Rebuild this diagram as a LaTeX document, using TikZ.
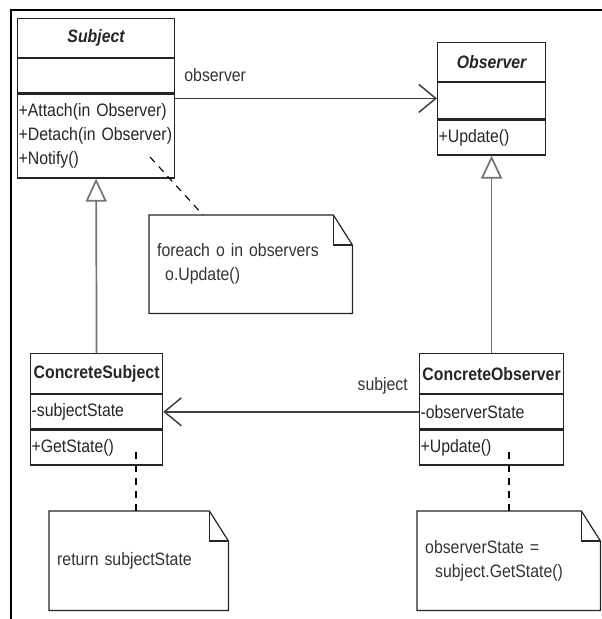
\documentclass[tikz,border=0pt]{standalone}
\usepackage{fontspec}
\setmainfont{Liberation Sans}[FakeStretch=0.88]
\usetikzlibrary{arrows.meta,positioning}
\newcommand{\umlfont}{\fontsize{18}{24}\selectfont}
\tikzset{
  clsbox/.style={draw=black!85,line width=1.2pt,rectangle,inner xsep=1pt,inner ysep=0pt,font=\umlfont,text=black!85},
  clsname/.style={clsbox,font=\umlfont\bfseries},
  abstrname/.style={clsbox,font=\umlfont\bfseries\itshape},
  clspart/.style={clsbox,align=left},
  notebox/.style={rectangle,anchor=north west,inner xsep=8pt,inner ysep=0pt,align=left,font=\umlfont,text=black!80},
  noteline/.style={draw=black!85,line width=1.2pt},
  notelink/.style={draw=black,line width=1.1pt,dash pattern=on 7pt off 6pt},
  assoc/.style={-{Straight Barb[length=17pt,width=28pt]},draw=black!75,line width=1.5pt},
  inherit/.style={-{Triangle[fill=white,length=23pt,width=21pt]},draw=black!55,line width=1.7pt},
  lbl/.style={font=\umlfont,text=black!80,inner sep=0pt},
  frameline/.style={draw=black,line width=1.6pt}
}
\newcommand{\dogear}[1]{%
  \draw[noteline] (#1.north west) -- ([xshift=-19pt]#1.north east) -- ([yshift=-30pt]#1.north east)
    -- (#1.south east) -- (#1.south west) -- cycle;
  \draw[noteline] ([xshift=-19pt]#1.north east) |- ([yshift=-30pt]#1.north east);}

\begin{document}
\begin{tikzpicture}[x=1pt,y=-1pt]
  \useasboundingbox (0,0) rectangle (602,619);
  \draw[frameline] (10,10) -- (602,10);
  \draw[frameline] (11,10) -- (11,619);

  % Subject
  \node[abstrname,minimum width=157pt,minimum height=39pt,anchor=north west] (subj) at (17,18) {Subject};
  \node[clspart,text width=155pt,minimum height=34pt,below=0pt of subj] (subjattr) {};
  \node[clspart,text width=155pt,minimum height=84pt,below=0pt of subjattr] (subjmeth) {+Attach(in Observer)\\+Detach(in Observer)\\+Notify()};

  % Observer
  \node[abstrname,minimum width=108pt,minimum height=39pt,anchor=north west] (obs) at (437,42) {Observer};
  \node[clspart,text width=106pt,minimum height=36pt,below=0pt of obs] (obsattr) {};
  \node[clspart,text width=106pt,minimum height=35pt,below=0pt of obsattr] (obsmeth) {+Update()};

  % ConcreteSubject
  \node[clsname,minimum width=132pt,minimum height=40pt,anchor=north west] (csubj) at (30,353) {ConcreteSubject};
  \node[clspart,text width=130pt,minimum height=34pt,below=0pt of csubj] (csubjattr) {-subjectState};
  \node[clspart,text width=130pt,minimum height=35pt,below=0pt of csubjattr] (csubjmeth) {+GetState()};

  % ConcreteObserver
  \node[clsname,minimum width=144pt,minimum height=40pt,anchor=north west] (cobs) at (419,353) {ConcreteObserver};
  \node[clspart,text width=142pt,minimum height=34pt,below=0pt of cobs] (cobsattr) {-observerState};
  \node[clspart,text width=142pt,minimum height=35pt,below=0pt of cobsattr] (cobsmeth) {+Update()};

  % notes
  \node[notebox,text width=187pt,minimum height=98pt] (note1) at (149,215) {foreach o in observers\\\hspace*{8pt}o.Update()};
  \node[notebox,text width=163pt,minimum height=99pt] (note2) at (49,511) {return subjectState};
  \node[notebox,text width=167pt,minimum height=99pt] (note3) at (417,511) {observerState =\\\hspace*{10pt}subject.GetState()};
  \dogear{note1}
  \dogear{note2}
  \dogear{note3}

  % associations
  \draw[assoc] ([yshift=-5pt]subjmeth.north east) coordinate (obsfrom) -- (obsfrom -| obsattr.west);
  \node[lbl,anchor=base west] (obslbl) at ([xshift=9pt,yshift=17pt]obsfrom) {observer};
  \draw[assoc] (cobsattr.west) -- (csubjattr.east);
  \node[lbl,anchor=base east] (subjlbl) at ([xshift=-11pt,yshift=21pt]cobsattr.west) {subject};

  % generalisation
  \draw[inherit] (csubj.north) -- (subjmeth.south);
  \draw[inherit] (cobs.north) -- (obsmeth.south);

  % note links
  \coordinate (notifyend) at (150,157);
  \coordinate (getend) at (136,452);
  \coordinate (updend) at (509,452);
  \draw[notelink] (notifyend) -- ([xshift=54pt]note1.north west);
  \draw[notelink] (getend) -- (getend |- note2.north);
  \draw[notelink] (updend) -- (updend |- note3.north);
\end{tikzpicture}
\end{document}
